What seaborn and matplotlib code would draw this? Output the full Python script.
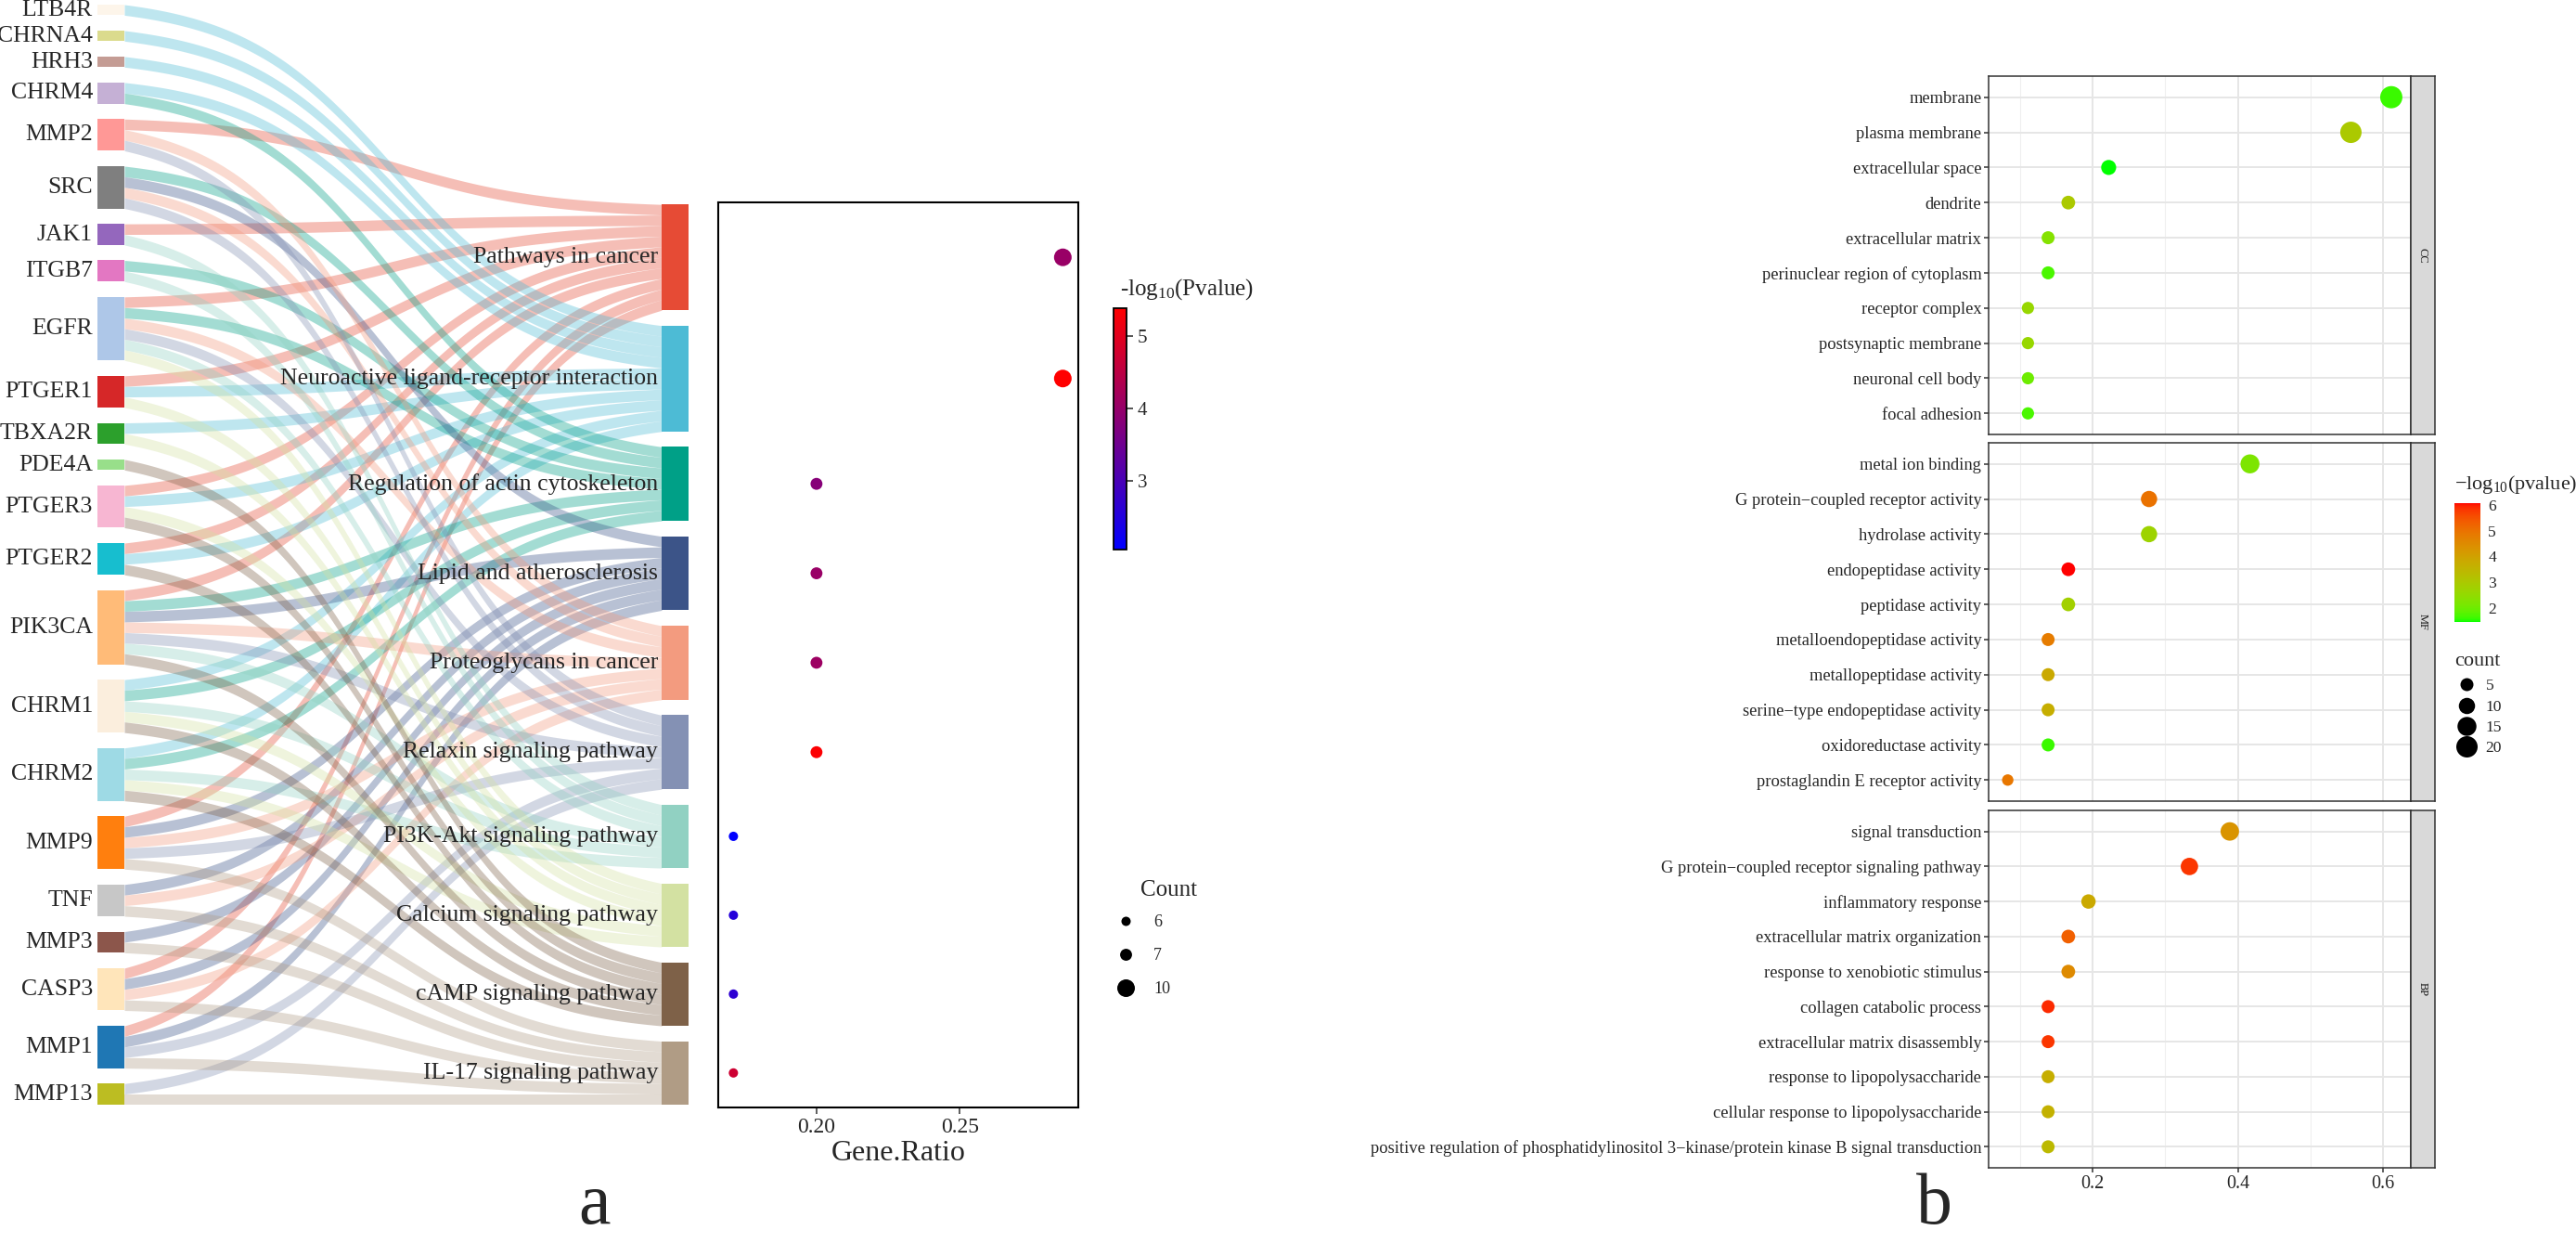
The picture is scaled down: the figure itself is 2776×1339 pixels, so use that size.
import numpy as np
import pandas as pd
import matplotlib
matplotlib.use('Agg')
import matplotlib.pyplot as plt
import seaborn as sns
from matplotlib.colors import LinearSegmentedColormap, ListedColormap, Normalize, to_rgb
from matplotlib.cm import ScalarMappable
from matplotlib.lines import Line2D

W, H = 2776, 1339

# ---------------- panel a : gene -> KEGG pathway sankey ----------------
genes = ['LTB4R', 'CHRNA4', 'HRH3', 'CHRM4', 'MMP2', 'SRC', 'JAK1', 'ITGB7', 'EGFR',
         'PTGER1', 'TBXA2R', 'PDE4A', 'PTGER3', 'PTGER2', 'PIK3CA', 'CHRM1', 'CHRM2',
         'MMP9', 'TNF', 'MMP3', 'CASP3', 'MMP1', 'MMP13']
gene_colors = ['#FDF5EA', '#DBDB8D', '#C49C94', '#C5B0D5', '#FF9896', '#7F7F7F', '#9467BD',
               '#E377C2', '#AEC7E8', '#D62728', '#2CA02C', '#98DF8A', '#F7B6D2', '#17BECF',
               '#FFBB78', '#FBEEDD', '#9EDAE5', '#FF7F0E', '#C7C7C7', '#8C564B', '#FFE5BA',
               '#1F77B4', '#BCBD22']

pathways = ['Pathways in cancer', 'Neuroactive ligand-receptor interaction',
            'Regulation of actin cytoskeleton', 'Lipid and atherosclerosis',
            'Proteoglycans in cancer', 'Relaxin signaling pathway', 'PI3K-Akt signaling pathway',
            'Calcium signaling pathway', 'cAMP signaling pathway', 'IL-17 signaling pathway']
pathway_colors = ['#E64B35', '#4DBBD5', '#00A087', '#3C5488', '#F39B7F', '#8491B4',
                  '#91D1C2', '#D3E1A2', '#7E6148', '#B09C85']
pathway_genes = [
    ['MMP2', 'JAK1', 'EGFR', 'PTGER1', 'PTGER3', 'PTGER2', 'PIK3CA', 'MMP9', 'CASP3', 'MMP1'],
    ['LTB4R', 'CHRNA4', 'HRH3', 'CHRM4', 'PTGER1', 'TBXA2R', 'PTGER3', 'PTGER2', 'CHRM1', 'CHRM2'],
    ['CHRM4', 'SRC', 'ITGB7', 'EGFR', 'PIK3CA', 'CHRM1', 'CHRM2'],
    ['SRC', 'PIK3CA', 'MMP9', 'TNF', 'MMP3', 'CASP3', 'MMP1'],
    ['MMP2', 'SRC', 'EGFR', 'PIK3CA', 'MMP9', 'TNF', 'CASP3'],
    ['MMP2', 'SRC', 'EGFR', 'PIK3CA', 'MMP9', 'MMP1', 'MMP13'],
    ['JAK1', 'ITGB7', 'EGFR', 'PIK3CA', 'CHRM1', 'CHRM2'],
    ['EGFR', 'PTGER1', 'TBXA2R', 'PTGER3', 'CHRM1', 'CHRM2'],
    ['PDE4A', 'PTGER3', 'PTGER2', 'PIK3CA', 'CHRM1', 'CHRM2'],
    ['MMP9', 'TNF', 'MMP3', 'CASP3', 'MMP1', 'MMP13'],
]
pathway_ratio = [0.286, 0.286, 0.200, 0.200, 0.200, 0.200, 0.171, 0.171, 0.171, 0.171]
pathway_count = [10, 10, 7, 7, 7, 7, 6, 6, 6, 6]
pathway_logp = [4.05, 5.38, 3.82, 4.05, 4.10, 5.33, 2.06, 2.55, 2.65, 4.72]

# ---------------- panel b : GO enrichment ----------------
cc_terms = ['membrane', 'plasma membrane', 'extracellular space', 'dendrite', 'extracellular matrix',
            'perinuclear region of cytoplasm', 'receptor complex', 'postsynaptic membrane',
            'neuronal cell body', 'focal adhesion']
cc_count = [22, 20, 8, 6, 5, 5, 4, 4, 4, 4]
cc_logp = [1.6, 3.0, 1.45, 3.0, 2.3, 1.7, 2.6, 2.6, 2.0, 1.7]

mf_terms = ['metal ion binding', 'G protein\u2212coupled receptor activity', 'hydrolase activity',
            'endopeptidase activity', 'peptidase activity', 'metalloendopeptidase activity',
            'metallopeptidase activity', 'serine\u2212type endopeptidase activity',
            'oxidoreductase activity', 'prostaglandin E receptor activity']
mf_count = [15, 10, 10, 6, 6, 5, 5, 5, 5, 3]
mf_logp = [2.2, 5.0, 2.7, 6.07, 2.8, 4.8, 3.8, 3.7, 1.6, 4.9]

bp_terms = ['signal transduction', 'G protein\u2212coupled receptor signaling pathway',
            'inflammatory response', 'extracellular matrix organization',
            'response to xenobiotic stimulus', 'collagen catabolic process',
            'extracellular matrix disassembly', 'response to lipopolysaccharide',
            'cellular response to lipopolysaccharide',
            'positive regulation of phosphatidylinositol 3\u2212kinase/protein kinase B signal transduction']
bp_count = [14, 12, 7, 6, 6, 5, 5, 5, 5, 5]
bp_logp = [4.3, 5.8, 3.8, 5.3, 4.5, 5.9, 5.8, 3.7, 3.6, 3.4]
go_total = 36


def lab_ramp(lo, hi, n=256):
    M = np.array([[0.4124, 0.3576, 0.1805], [0.2126, 0.7152, 0.0722], [0.0193, 0.1192, 0.9505]])
    white = np.array([0.95047, 1.0, 1.08883])

    def to_lab(c):
        rgb = np.array(to_rgb(c))
        lin = np.where(rgb <= 0.04045, rgb / 12.92, ((rgb + 0.055) / 1.055) ** 2.4)
        xyz = M @ lin / white
        f = np.where(xyz > 0.008856, np.cbrt(xyz), 7.787 * xyz + 16 / 116)
        return np.array([116 * f[1] - 16, 500 * (f[0] - f[1]), 200 * (f[1] - f[2])])

    t = np.linspace(0, 1, n)[:, None]
    lab = to_lab(lo) * (1 - t) + to_lab(hi) * t
    fy = (lab[:, 0] + 16) / 116
    f = np.stack([fy + lab[:, 1] / 500, fy, fy - lab[:, 2] / 200], 1)
    xyz = np.where(f ** 3 > 0.008856, f ** 3, (f - 16 / 116) / 7.787) * white
    lin = np.clip(xyz @ np.linalg.inv(M).T, 0, 1)
    rgb = np.where(lin <= 0.0031308, 12.92 * lin, 1.055 * lin ** (1 / 2.4) - 0.055)
    return ListedColormap(np.clip(rgb, 0, 1))


cmap_a = LinearSegmentedColormap.from_list('br', ['#0000FF', '#FF0000'])
cmap_b = lab_ramp('#00FF00', '#FF0000')
norm_a = Normalize(2.06, 5.38)
norm_b = Normalize(1.45, 6.07)

sns.set_theme(style='white')
plt.rcParams['font.family'] = ['Liberation Serif', 'DejaVu Serif']
plt.rcParams['mathtext.fontset'] = 'custom'
plt.rcParams['mathtext.rm'] = 'Liberation Serif'
plt.rcParams['mathtext.it'] = 'Liberation Serif:italic'

fig = plt.figure(figsize=(W / 100, H / 100), dpi=100)


def px_axes(x0, y0, x1, y1):
    return fig.add_axes([x0 / W, 1 - y1 / H, (x1 - x0) / W, (y1 - y0) / H])


# ---- sankey layout (link units) ----
gap = 1.452
gene_n = np.array([sum(g in m for m in pathway_genes) for g in genes])
gene_top = np.concatenate([[0], np.cumsum(gene_n + gap)[:-1]])
total = gene_top[-1] + gene_n[-1]
path_n = np.array([len(m) for m in pathway_genes])
path_top = np.concatenate([[0], np.cumsum(path_n + gap)[:-1]])
path_top = path_top + total - (path_top[-1] + path_n[-1])
path_mid = path_top + path_n / 2

sk_top, sk_bot = 5, 1190
ax_sk = px_axes(105, sk_top, 742, sk_bot)
nw = 29 / 637
ax_sk.set_xlim(0, 1)
ax_sk.set_ylim(total, 0)
ax_sk.axis('off')

xs = np.linspace(nw, 1 - nw, 120)
t = (xs - nw) / (1 - 2 * nw)
k = 7.0
sig = 1 / (1 + np.exp(-k * (t - 0.5)))
sig = (sig - sig[0]) / (sig[-1] - sig[0])

slot = np.zeros(len(genes))
for j, members in enumerate(pathway_genes):
    ordered = sorted(members, key=genes.index)
    for kk, g in enumerate(ordered):
        i = genes.index(g)
        y0 = gene_top[i] + slot[i]
        slot[i] += 1
        y1 = path_top[j] + kk
        ytop = y0 + (y1 - y0) * sig
        ax_sk.fill_between(xs, ytop, ytop + 1, color=pathway_colors[j], alpha=0.36, lw=0, zorder=1)

ax_sk.bar(np.full(len(genes), nw / 2), gene_n, bottom=gene_top, width=nw,
          color=gene_colors, lw=0, zorder=3)
ax_sk.bar(np.full(len(pathways), 1 - nw / 2), path_n, bottom=path_top, width=nw,
          color=pathway_colors, lw=0, zorder=3)
for i, g in enumerate(genes):
    ax_sk.text(-0.008, gene_top[i] + gene_n[i] / 2, g, ha='right', va='center',
               fontsize=18.5, clip_on=False)
for j, p in enumerate(pathways):
    ax_sk.text(1 - nw - 0.006, path_mid[j], p, ha='right', va='center', fontsize=18.5, zorder=4)

# ---- dot plot sharing the pathway rows ----
upp = total / (sk_bot - sk_top)
dot_top, dot_bot = 218, 1193
ax_dot = px_axes(774, dot_top, 1162, dot_bot)
df_a = pd.DataFrame({'ratio': pathway_ratio, 'y': path_mid, 'count': pathway_count, 'logp': pathway_logp})
sns.scatterplot(data=df_a, x='ratio', y='y', hue='logp', size='count', palette=cmap_a,
                hue_norm=norm_a, sizes=(52, 187), size_norm=(6, 10), legend=False,
                linewidth=0, ax=ax_dot)
ax_dot.set_ylim((dot_bot - sk_top) * upp, (dot_top - sk_top) * upp)
ax_dot.set_xlim(0.1657, 0.2914)
ax_dot.set_yticks([])
ax_dot.set_xticks([0.20, 0.25])
ax_dot.set_xticklabels(['0.20', '0.25'])
ax_dot.tick_params(axis='x', length=5, width=1.1, color='#333333', labelsize=17, pad=3, bottom=True)
ax_dot.set_xlabel('Gene.Ratio', fontsize=23, labelpad=2)
ax_dot.set_ylabel('')
for s in ax_dot.spines.values():
    s.set_color('black')
    s.set_linewidth(1.5)

cax_a = px_axes(1200, 332, 1214, 592)
cb_a = fig.colorbar(ScalarMappable(norm=norm_a, cmap=cmap_a), cax=cax_a, ticks=[3, 4, 5])
cb_a.outline.set_linewidth(1.3)
cb_a.outline.set_edgecolor('black')
cax_a.tick_params(labelsize=15, length=5, width=1.1, direction='out')
fig.text(1207 / W, 1 - 312 / H, '-log$_{10}$(Pvalue)', ha='left', va='center', fontsize=18)

fig.text(1229 / W, 1 - 959 / H, 'Count', ha='left', va='center', fontsize=18)
handles_a = [Line2D([], [], ls='', marker='o', color='black', markeredgewidth=0,
                    markersize=np.sqrt(52 + (187 - 52) * (c - 6) / 4)) for c in [6, 7, 10]]
fig.legend(handles_a, ['6', '7', '10'], loc='upper left', bbox_to_anchor=(1200 / W, 1 - 985 / H),
           frameon=False, fontsize=13, labelspacing=1.05, handletextpad=1.0, handlelength=1.4,
           borderpad=0, borderaxespad=0)

# ---- panel b facets ----
facets = [('CC', cc_terms, cc_count, cc_logp, 82, 468),
          ('MF', mf_terms, mf_count, mf_logp, 477, 863),
          ('BP', bp_terms, bp_count, bp_logp, 873, 1258)]
for name, terms, counts, logp, y0, y1 in facets:
    ax = px_axes(2143, y0, 2598, y1)
    df = pd.DataFrame({'term': terms, 'row': np.arange(len(terms)), 'count': counts, 'logp': logp})
    df['ratio'] = df['count'] / go_total
    sns.scatterplot(data=df, x='ratio', y='row', hue='logp', size='count', palette=cmap_b,
                    hue_norm=norm_b, sizes=(78.5, 297), size_norm=(3, 22), legend=False,
                    linewidth=0, ax=ax, zorder=3)
    ax.set_xlim(0.057, 0.638)
    ax.set_ylim(len(terms) - 0.4, -0.6)
    ax.set_yticks(df['row'])
    ax.set_yticklabels(terms, fontsize=13.3)
    ax.set_xticks([0.2, 0.4, 0.6])
    ax.set_xticks([0.1, 0.3, 0.5], minor=True)
    ax.set_xticklabels(['0.2', '0.4', '0.6'])
    ax.grid(which='major', color='#E6E6E6', lw=1.4)
    ax.grid(which='minor', axis='x', color='#EFEFEF', lw=0.8)
    ax.set_axisbelow(True)
    ax.set_xlabel('')
    ax.set_ylabel('')
    ax.tick_params(axis='y', length=3.5, width=1.1, color='#333333', pad=2, left=True)
    ax.tick_params(which='minor', length=0)
    if name == 'BP':
        ax.tick_params(axis='x', length=3.5, width=1.1, color='#333333', labelsize=14.5, pad=2,
                       bottom=True)
    else:
        ax.tick_params(axis='x', length=0, labelbottom=False)
    for s in ax.spines.values():
        s.set_color('#333333')
        s.set_linewidth(1.1)
    st = px_axes(2598, y0, 2624, y1)
    st.set_facecolor('#D9D9D9')
    st.set_xticks([])
    st.set_yticks([])
    for s in st.spines.values():
        s.set_color('#333333')
        s.set_linewidth(1.1)
    st.text(0.5, 0.5, name, rotation=-90, ha='center', va='center', fontsize=9,
            transform=st.transAxes, color='#1A1A1A')

cax_b = px_axes(2645, 542, 2673, 670)
cb_b = fig.colorbar(ScalarMappable(norm=norm_b, cmap=cmap_b), cax=cax_b, ticks=[2, 3, 4, 5, 6])
cb_b.outline.set_visible(False)
cax_b.yaxis.set_ticks_position('both')
cax_b.tick_params(labelsize=12.6, length=5, width=1, direction='in', color='white',
                  labelleft=False, labelright=True, pad=6)
fig.text(2645 / W, 1 - 522 / H, '\u2212log$_{10}$(pvalue)', ha='left', va='center', fontsize=16)

fig.text(2645 / W, 1 - 713 / H, 'count', ha='left', va='center', fontsize=16)
handles_b = [Line2D([], [], ls='', marker='o', color='black', markeredgewidth=0,
                    markersize=np.sqrt(44 + 11.5 * c)) for c in [5, 10, 15, 20]]
fig.legend(handles_b, ['5', '10', '15', '20'], loc='upper left', bbox_to_anchor=(2647 / W, 1 - 731 / H),
           frameon=False, fontsize=12.6, labelspacing=0.35, handletextpad=0.6, handlelength=1.2,
           borderpad=0, borderaxespad=0)

fig.text(641 / W, 1 - 1318 / H, 'a', ha='center', va='baseline', fontsize=56)
fig.text(2084 / W, 1 - 1318 / H, 'b', ha='center', va='baseline', fontsize=56)

fig.savefig('out.png', dpi=100)
